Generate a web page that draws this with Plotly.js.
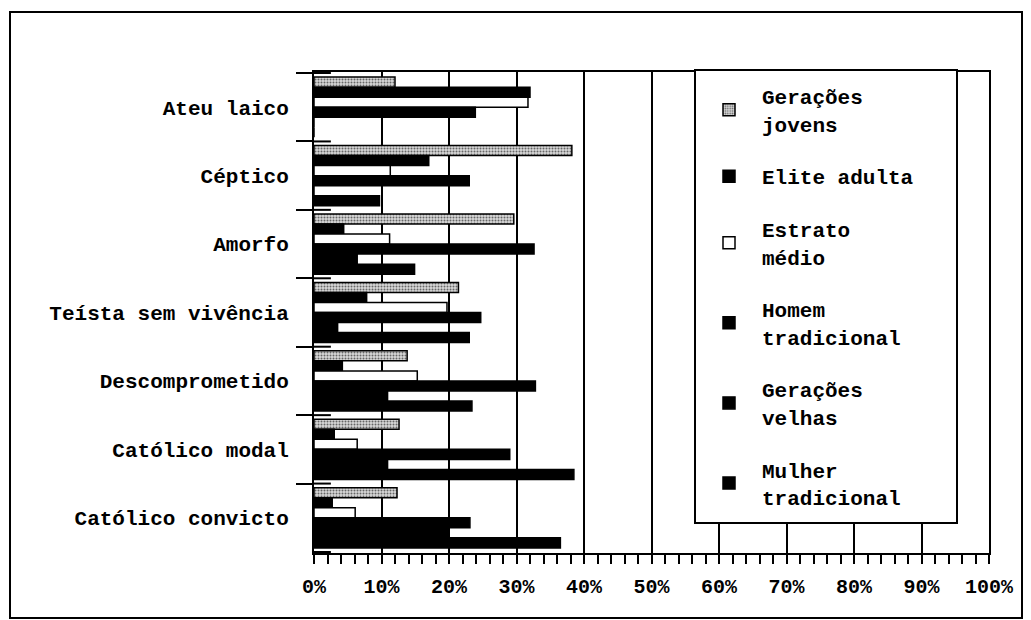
<!DOCTYPE html>
<html><head><meta charset="utf-8">
<script src="https://cdn.plot.ly/plotly-3.0.1.min.js"></script>
<style>body{margin:0;background:#fff}#chart{width:1031px;height:620px}</style>
</head><body><div id="chart"></div><script>
const categories = ["Ateu laico","Céptico","Amorfo","Teísta sem vivência","Descomprometido","Católico modal","Católico convicto"];
const seriesNames = ["Gerações<br>jovens","Elite adulta","Estrato<br>médio","Homem<br>tradicional","Gerações<br>velhas","Mulher<br>tradicional"];
const geracoesJovens    = [12.0, 38.2, 29.6, 21.4, 13.8, 12.6, 12.3];
const eliteAdulta       = [32.0, 17.0,  4.4,  7.8,  4.2,  3.0,  2.7];
const estratoMedio      = [31.7, 11.3, 11.2, 19.7, 15.3,  6.4,  6.1];
const homemTradicional  = [23.9, 23.0, 32.6, 24.7, 32.8, 29.0, 23.1];
const geracoesVelhas    = [ 0.0,  0.0,  6.4,  3.5, 10.9, 10.9, 20.0];
const mulherTradicional = [ 0.0,  9.7, 14.9, 23.0, 23.4, 38.5, 36.5];
const xTickValues = [0,10,20,30,40,50,60,70,80,90,100];
const xTickLabels = ["0%","10%","20%","30%","40%","50%","60%","70%","80%","90%","100%"];

const seriesValues = [geracoesJovens, eliteAdulta, estratoMedio, homemTradicional, geracoesVelhas, mulherTradicional];
const FONT = '"Courier New", "Liberation Mono", monospace';
const fills = [
  {color:'#d0d0d0', pattern:{shape:'.', fgcolor:'#666', bgcolor:'#d8d8d8', size:3, solidity:0.35}},
  {color:'#000'}, {color:'#fff'}, {color:'#000'}, {color:'#000'}, {color:'#000'}
];
const traces = seriesValues.map((vals, i) => ({
  type:'bar', orientation:'h', name: seriesNames[i], y: categories, x: vals,
  legendgroup: 'g'+i,
  marker: Object.assign({line:{color:'#000', width:1.5}}, fills[i]),
  hoverinfo:'x+y'
}));

// plot area pixel geometry -> paper
const L=314, R=42, T=72, B=67, W=1031, H=620;
const pw = W-L-R, ph = H-T-B;
const px = v => (v - L)/pw;
const py = v => (H - B - v)/ph;

const shapes = [];
// crossing part of category ticks (inside the plot)
for (let k = 0; k <= categories.length; k++) {
  shapes.push({type:'line', xref:'paper', yref:'y', x0:0, x1:0.025, y0:k-0.5, y1:k-0.5, line:{color:'#000', width:2}});
}
// legend box
shapes.push({type:'rect', xref:'paper', yref:'paper', x0:px(695), x1:px(957), y0:py(523), y1:py(70), fillcolor:'#fff', line:{color:'#000', width:2}, layer:'above'});
// outer frame
shapes.push({type:'rect', xref:'paper', yref:'paper', x0:px(10), x1:px(1022), y0:py(618), y1:py(12), line:{color:'#000', width:2}, layer:'below'});

const layout = {
  width: W, height: H,
  margin: {l:L, r:R, t:T, b:B, pad:0},
  paper_bgcolor:'#fff', plot_bgcolor:'#fff',
  font: {family: FONT, size: 21, color:'#000', weight: 'bold'},
  barmode:'group', bargap:0.12, bargroupgap:0,
  showlegend: true,
  legend: {x: px(696), xanchor:'left', y: py(76), yanchor:'top', bgcolor:'rgba(0,0,0,0)', borderwidth:0,
           font:{family: FONT, size: 21, color:'#000', weight:'bold'},
           itemwidth: 56, traceorder:'grouped', tracegroupgap: 22.5, valign:'middle'},
  xaxis: {range:[0,100], tickvals: xTickValues, ticktext: xTickLabels, showgrid:true, gridcolor:'#000', gridwidth:2,
          zeroline:false, showline:true, linecolor:'#000', linewidth:2, mirror:true,
          ticks:'outside', ticklen:9, tickwidth:2, tickcolor:'#000', ticklabelstandoff: 5,
          minor:{dtick:2, tick0:0, ticks:'outside', ticklen:9, tickwidth:2, tickcolor:'#000', showgrid:false},
          tickfont:{family: FONT, size: 20, color:'#000', weight:'bold'}, fixedrange:true},
  yaxis: {type:'category', categoryorder:'array', categoryarray: categories, autorange:'reversed',
          showline:true, linecolor:'#000', linewidth:2, mirror:true, showgrid:false, zeroline:false,
          ticks:'outside', tickson:'boundaries', ticklen:16, tickwidth:2, tickcolor:'#000',
          ticklabelstandoff: 19,
          tickfont:{family: FONT, size: 21, color:'#000', weight:'bold'}, fixedrange:true},
  shapes: shapes
};
Plotly.newPlot('chart', traces, layout, {displayModeBar:false, staticPlot:true});
</script></body></html>
